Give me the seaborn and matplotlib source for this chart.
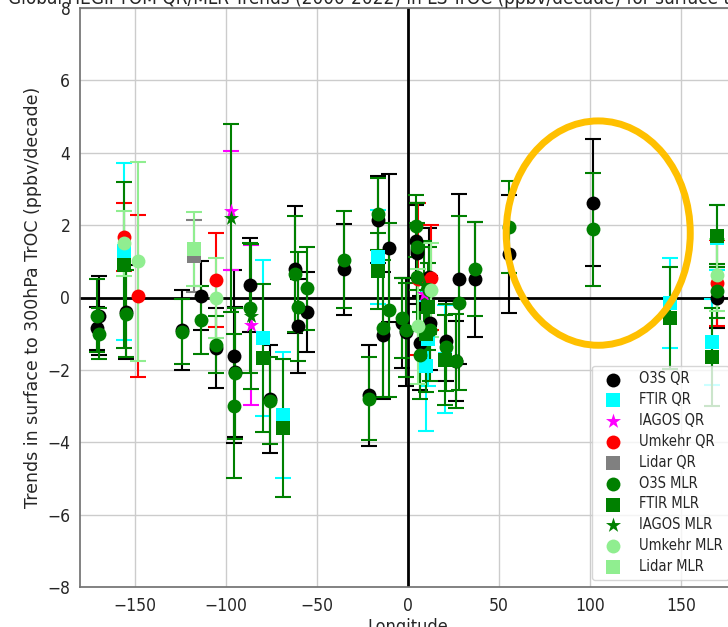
import matplotlib
matplotlib.use("Agg")
import matplotlib.pyplot as plt
from matplotlib.patches import Ellipse
import seaborn as sns

# O3S ozonesondes: longitude, QR trend/err, MLR trend/err
o3s_lon = [-170.6, -169.8, -155.0, -124.2, -113.5, -105.2, -95.6, -95.0, -86.6, -75.5,
           -62.0, -60.5, -55.2, -35.3, -21.5, -16.3, -13.8, -10.4, -3.5, -1.1,
           4.4, 4.8, 5.2, 6.6, 11.6, 12.0, 21.0, 26.5, 28.0, 37.0, 55.5, 101.7, 169.7]
o3s_qr = [-0.85, -0.5, -0.4, -0.9, 0.05, -1.4, -1.63, -2.05, 0.35, -2.8,
          0.78, -0.8, -0.4, 0.78, -2.7, 2.15, -1.05, 1.37, -0.7, -0.95,
          1.55, 1.3, 1.22, -1.25, 0.57, -0.7, -1.2, -1.75, 0.5, 0.5, 1.2, 2.62, 0.0]
o3s_qr_err = [0.6, 1.1, 1.3, 1.1, 0.95, 1.1, 2.4, 1.8, 1.3, 1.5,
              1.75, 1.3, 1.1, 1.25, 1.4, 1.2, 1.75, 2.05, 1.25, 1.5,
              1.0, 1.3, 1.4, 1.3, 1.35, 1.3, 1.1, 1.1, 2.35, 1.6, 1.63, 1.75, 0.85]
o3s_mlr = [-0.5, -1.0, -0.45, -0.95, -0.62, -1.3, -3.0, -2.1, -0.3, -2.85,
           0.65, -0.25, 0.25, 1.05, -2.8, 2.3, -0.85, -0.35, -0.57, -0.9,
           1.97, 1.4, 0.57, -1.6, 0.2, -0.9, -1.37, -1.75, -0.15, 0.78, 1.95, 1.88, 0.18]
o3s_mlr_err = [1.0, 0.7, 1.2, 0.9, 0.95, 0.8, 2.0, 1.8, 1.8, 1.2,
               1.6, 1.5, 1.15, 1.35, 1.15, 1.0, 1.9, 2.4, 1.1, 1.3,
               0.85, 1.2, 1.5, 1.2, 1.2, 1.4, 1.2, 1.3, 2.4, 1.3, 1.27, 1.57, 0.75]

# FTIR
ftir_lon = [-155.6, -79.4, -68.8, -16.5, 9.7, 11.0, 20.5, 144.0, 166.7, 169.7]
ftir_qr = [1.28, -1.12, -3.25, 1.12, -1.9, -1.15, -1.7, -0.15, -1.23, 1.65]
ftir_qr_err = [2.45, 2.15, 1.75, 1.3, 1.8, 1.3, 1.5, 1.25, 1.2, 0.9]
ftir_mlr = [0.9, -1.67, -3.6, 0.73, -1.0, -0.25, -1.73, -0.57, -1.65, 1.7]
ftir_mlr_err = [2.3, 2.05, 1.9, 1.05, 1.6, 1.2, 1.25, 1.4, 1.35, 0.85]

# IAGOS
iagos_lon = [-97.0, -86.0, 8.6]
iagos_qr = [2.4, -0.76, 0.1]
iagos_qr_err = [1.65, 2.2, 1.3]
iagos_mlr = [2.2, -0.52, 0.35]
iagos_mlr_err = [2.6, 2.0, 1.2]

# Umkehr
umk_lon = [-155.6, -148.0, -105.2, 5.5, 12.5, 169.7]
umk_qr = [1.67, 0.04, 0.48, 0.5, 0.55, 0.4]
umk_qr_err = [0.95, 2.25, 1.3, 2.1, 1.45, 1.2]
umk_mlr = [1.5, 1.0, -0.02, -0.8, 0.2, 0.62]
umk_mlr_err = [0.9, 2.75, 1.1, 1.6, 1.3, 1.0]

# Lidar
lidar_lon = [-117.7]
lidar_qr = [1.15]
lidar_qr_err = [1.0]
lidar_mlr = [1.33]
lidar_mlr_err = [1.02]

sns.set_theme(style="whitegrid")
plt.rcParams["font.stretch"] = "condensed"
plt.rcParams["axes.edgecolor"] = "0.45"

fig = plt.figure(figsize=(7.28, 6.27), dpi=100)
ax = fig.add_axes([80 / 728, 1 - 587 / 627, 656 / 728, 579 / 627])

groups = [
    ("O3S QR", o3s_lon, o3s_qr, o3s_qr_err, "black", "o"),
    ("FTIR QR", ftir_lon, ftir_qr, ftir_qr_err, "cyan", "s"),
    ("IAGOS QR", iagos_lon, iagos_qr, iagos_qr_err, "magenta", "*"),
    ("Umkehr QR", umk_lon, umk_qr, umk_qr_err, "red", "o"),
    ("Lidar QR", lidar_lon, lidar_qr, lidar_qr_err, "gray", "s"),
    ("O3S MLR", o3s_lon, o3s_mlr, o3s_mlr_err, "green", "o"),
    ("FTIR MLR", ftir_lon, ftir_mlr, ftir_mlr_err, "green", "s"),
    ("IAGOS MLR", iagos_lon, iagos_mlr, iagos_mlr_err, "green", "*"),
    ("Umkehr MLR", umk_lon, umk_mlr, umk_mlr_err, "lightgreen", "o"),
    ("Lidar MLR", lidar_lon, lidar_mlr, lidar_mlr_err, "lightgreen", "s"),
]

for name, lon, val, err, col, mk in groups:
    ax.errorbar(lon, val, yerr=err, fmt="none", ecolor=col, elinewidth=1.5,
                capsize=6, capthick=1.5, zorder=2)
    sns.scatterplot(x=lon, y=val, color=col, marker=mk, s=100 if mk != "*" else 130,
                    linewidth=0, label=name, ax=ax, zorder=3)

ax.axhline(0, color="black", lw=2, zorder=1.5)
ax.axvline(0, color="black", lw=2, zorder=1.5)

ax.add_patch(Ellipse((104.4, 1.78), width=101, height=6.2, fill=False,
                     edgecolor="#FFC000", lw=5, zorder=4))

ax.set_xlim(-180, 180)
ax.set_ylim(-8, 8)
ax.set_xticks([-150, -100, -50, 0, 50, 100, 150])
ax.set_yticks(range(-8, 9, 2))
ax.tick_params(labelsize=12.5, pad=1)
ax.set_xlabel("Longitude", fontsize=13, labelpad=2)
ax.set_ylabel("Trends in surface to 300hPa TrOC (ppbv/decade)", fontsize=12.5,
              fontstretch="normal")
ax.set_title("Global HEGIFTOM QR/MLR Trends (2000-2022) in LS-TrOC (ppbv/decade) "
             "for surface to 300hPa", pad=3, fontsize=13.6)
ax.legend(loc="lower right", fontsize=10.5, labelspacing=0.4)

fig.savefig("out.png", dpi=100)
